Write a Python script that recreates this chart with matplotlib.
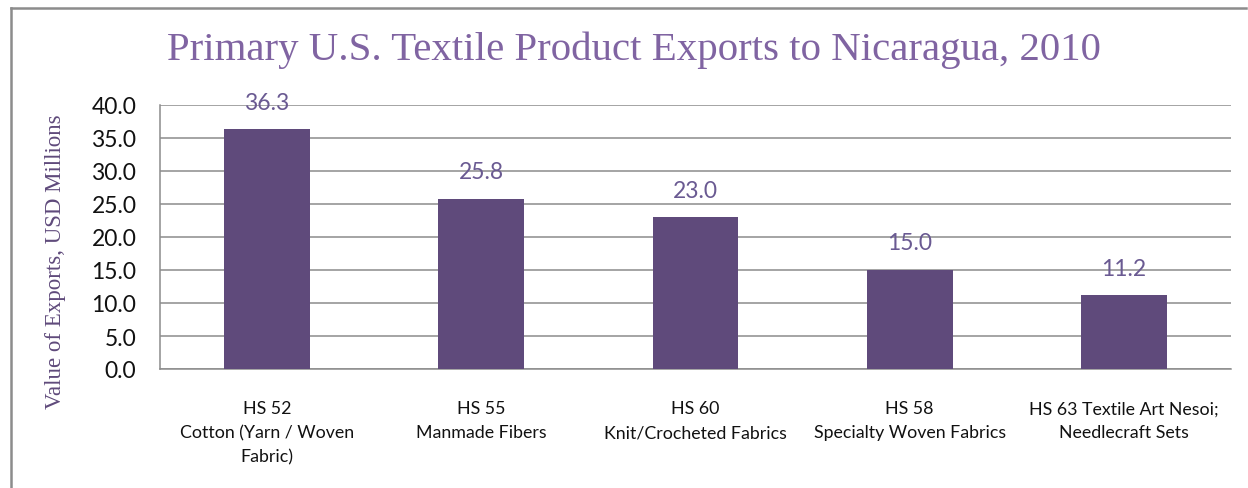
import matplotlib
matplotlib.use("Agg")
import matplotlib.pyplot as plt
from matplotlib.lines import Line2D

categories = ["HS 52\nCotton (Yarn / Woven\nFabric)", "HS 55\nManmade Fibers",
              "HS 60\nKnit/Crocheted Fabrics", "HS 58\nSpecialty Woven Fabrics",
              "HS 63 Textile Art Nesoi;\nNeedlecraft Sets"]
values = [36.3, 25.8, 23.0, 15.0, 11.2]
yticks = [0, 5, 10, 15, 20, 25, 30, 35, 40]
title = "Primary U.S. Textile Product Exports to Nicaragua, 2010"
ylabel = "Value of Exports, USD Millions"

W, H = 1248, 489
fig = plt.figure(figsize=(W/100, H/100), dpi=100)
ax = fig.add_axes([160/W, 1-370/H, (1231-160)/W, (370-106)/H])

bar_color = "#5F4A7B"
x = list(range(len(values)))
ax.bar(x, values, width=0.4, color=bar_color, zorder=3)
ax.set_xlim(-0.5, len(values)-0.5)
ax.set_ylim(0, 40)
ax.set_yticks(yticks)
ax.set_yticklabels([f"{v:.1f}" for v in yticks], fontfamily="Lato", fontsize=16.5, color="#111111")
ax.set_xticks(x)
ax.set_xticklabels(categories, fontfamily="Lato", fontsize=12.8, color="#111111", linespacing=1.62)
ax.tick_params(axis="both", length=0)
ax.tick_params(axis="y", pad=17)
ax.tick_params(axis="x", pad=22.5)
ax.yaxis.grid(True, color="#8C8C8C", linewidth=1.1, zorder=0)
ax.set_axisbelow(True)
for s in ["top", "right"]:
    ax.spines[s].set_visible(False)
for s in ["left", "bottom"]:
    ax.spines[s].set_color("#8C8C8C")
    ax.spines[s].set_linewidth(1.1)

for xi, v in zip(x, values):
    ax.annotate(f"{v:.1f}", (xi, v), xytext=(0, 27), textcoords="offset pixels",
                ha="center", va="center", fontfamily="Lato", fontsize=16.5, color="#6A5A92", zorder=4)

fig.text(634/W, 1-50/H, title, ha="center", va="center", fontfamily="Liberation Serif",
         fontsize=29.4, color="#8064A2")
fig.text(55/W, 1-262/H, ylabel, ha="center", va="center", rotation=90,
         fontfamily="Liberation Serif", fontsize=16.5, color="#5F4A7B")

fig.add_artist(Line2D([10.5/W, 10.5/W], [0, 1-8.5/H], transform=fig.transFigure, color="#8C8C8C", linewidth=1.8))
fig.add_artist(Line2D([10.5/W, 1246/W], [1-8.5/H, 1-8.5/H], transform=fig.transFigure, color="#8C8C8C", linewidth=1.8))

fig.savefig("out.png", dpi=100, facecolor="white")
